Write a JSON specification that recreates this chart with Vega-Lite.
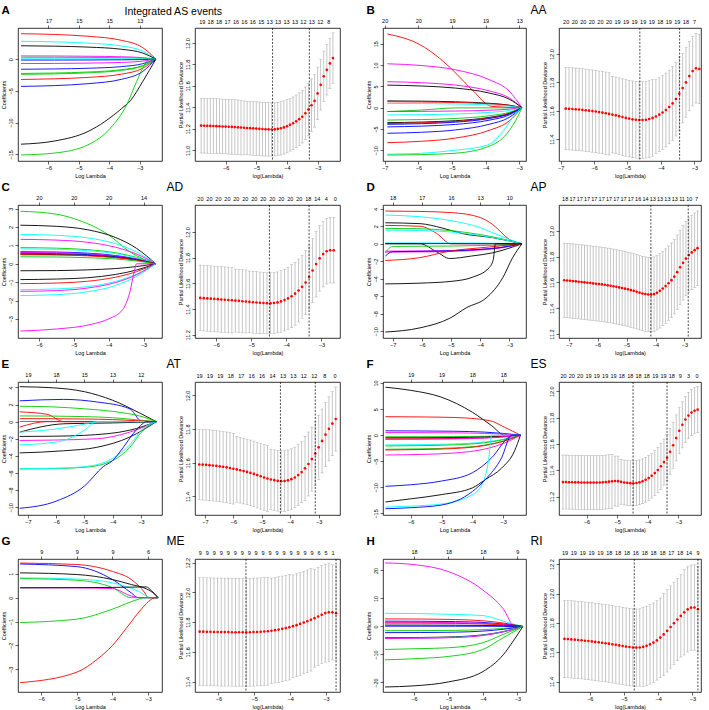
{
"$schema": "https://vega.github.io/schema/vega-lite/v6.json",
"padding": {"left": 1, "top": 3, "right": 1, "bottom": 0},
"config": {
  "font": "Liberation Sans",
  "view": {"stroke": "#000", "strokeWidth": 0.8},
  "axis": {"grid": false, "domain": false, "tickColor": "#000", "tickSize": 3, "tickWidth": 0.6, "labelFontSize": 5.5, "labelColor": "#000", "titleFontSize": 5.5, "titleFontWeight": "normal", "titleColor": "#000", "labelPadding": 1.5, "titlePadding": 2, "labelOverlap": false, "labelFlush": false},
  "axisY": {"labelAngle": -90, "labelAlign": "center", "labelBaseline": "bottom"},
  "title": {"fontSize": 11.5, "fontWeight": "bold", "anchor": "start", "color": "#000", "offset": 2}
},
"datasets": {
"cA": [
{"k":2,"x":-6.9,"y":4.0},{"k":2,"x":-5.8,"y":3.88},{"k":2,"x":-4.7,"y":3.6},{"k":2,"x":-3.6,"y":2.96},{"k":2,"x":-2.9,"y":1.8},{"k":2,"x":-2.47,"y":0},
{"k":5,"x":-6.9,"y":2.8},{"k":5,"x":-5.8,"y":2.72},{"k":5,"x":-4.7,"y":2.52},{"k":5,"x":-3.6,"y":2.07},{"k":5,"x":-2.9,"y":1.26},{"k":5,"x":-2.47,"y":0},
{"k":1,"x":-6.9,"y":2.1},{"k":1,"x":-5.8,"y":2.04},{"k":1,"x":-4.7,"y":1.89},{"k":1,"x":-3.6,"y":1.55},{"k":1,"x":-2.9,"y":0.95},{"k":1,"x":-2.47,"y":0},
{"k":6,"x":-6.9,"y":0.5},{"k":6,"x":-5.8,"y":0.49},{"k":6,"x":-4.7,"y":0.45},{"k":6,"x":-3.6,"y":0.37},{"k":6,"x":-2.9,"y":0.23},{"k":6,"x":-2.47,"y":0},
{"k":3,"x":-6.9,"y":0.3},{"k":3,"x":-5.8,"y":0.29},{"k":3,"x":-4.7,"y":0.27},{"k":3,"x":-3.6,"y":0.22},{"k":3,"x":-2.9,"y":0.14},{"k":3,"x":-2.47,"y":0},
{"k":11,"x":-6.9,"y":0.05},{"k":11,"x":-5.8,"y":0.05},{"k":11,"x":-4.7,"y":0.05},{"k":11,"x":-3.6,"y":0.04},{"k":11,"x":-2.9,"y":0.02},{"k":11,"x":-2.47,"y":0},
{"k":4,"x":-6.9,"y":-0.15},{"k":4,"x":-5.8,"y":-0.15},{"k":4,"x":-4.7,"y":-0.14},{"k":4,"x":-3.6,"y":-0.11},{"k":4,"x":-2.9,"y":-0.07},{"k":4,"x":-2.47,"y":0},
{"k":12,"x":-6.9,"y":-0.7},{"k":12,"x":-5.8,"y":-0.68},{"k":12,"x":-4.7,"y":-0.63},{"k":12,"x":-3.6,"y":-0.52},{"k":12,"x":-2.9,"y":-0.32},{"k":12,"x":-2.47,"y":0},
{"k":10,"x":-6.9,"y":-1.6},{"k":10,"x":-5.8,"y":-1.55},{"k":10,"x":-4.7,"y":-1.44},{"k":10,"x":-3.6,"y":-1.18},{"k":10,"x":-2.9,"y":-0.72},{"k":10,"x":-2.47,"y":0},
{"k":9,"x":-6.9,"y":-2.26},{"k":9,"x":-5.8,"y":-2.19},{"k":9,"x":-4.7,"y":-2.03},{"k":9,"x":-3.6,"y":-1.67},{"k":9,"x":-2.9,"y":-1.02},{"k":9,"x":-2.47,"y":0},
{"k":15,"x":-6.9,"y":-2.4},{"k":15,"x":-5.8,"y":-2.33},{"k":15,"x":-4.7,"y":-2.16},{"k":15,"x":-3.6,"y":-1.78},{"k":15,"x":-2.9,"y":-1.08},{"k":15,"x":-2.47,"y":0},
{"k":8,"x":-6.9,"y":-3.2},{"k":8,"x":-5.8,"y":-3.1},{"k":8,"x":-4.7,"y":-2.88},{"k":8,"x":-3.6,"y":-2.37},{"k":8,"x":-2.9,"y":-1.44},{"k":8,"x":-2.47,"y":0},
{"k":16,"x":-6.9,"y":-4.3},{"k":16,"x":-5.8,"y":-4.17},{"k":16,"x":-4.7,"y":-3.87},{"k":16,"x":-3.6,"y":-3.18},{"k":16,"x":-2.9,"y":-1.94},{"k":16,"x":-2.47,"y":0},
{"k":7,"x":-6.9,"y":-13.4},{"k":7,"x":-5.8,"y":-12.9},{"k":7,"x":-4.7,"y":-11.4},{"k":7,"x":-3.6,"y":-7.8},{"k":7,"x":-3.3,"y":-6.5},{"k":7,"x":-2.9,"y":-3.5},{"k":7,"x":-2.47,"y":0},
{"k":21,"x":-6.9,"y":-15.1},{"k":21,"x":-5.8,"y":-14.8},{"k":21,"x":-4.7,"y":-13.5},{"k":21,"x":-3.97,"y":-10.9},{"k":21,"x":-3.43,"y":-7.2},{"k":21,"x":-3.1,"y":-3.5},{"k":21,"x":-2.8,"y":-0.6},{"k":21,"x":-2.68,"y":0},{"k":21,"x":-2.47,"y":0}
],
"cB": [
{"k":2,"x":-6.92,"y":17.3},{"k":2,"x":-5.93,"y":14.7},{"k":2,"x":-5.04,"y":9.3},{"k":2,"x":-4.64,"y":6.1},{"k":2,"x":-4.35,"y":3.8},{"k":2,"x":-3.82,"y":0.3},{"k":2,"x":-2.92,"y":0},
{"k":6,"x":-6.92,"y":10.3},{"k":6,"x":-5.9,"y":9.9},{"k":6,"x":-4.9,"y":8.9},{"k":6,"x":-3.9,"y":6.6},{"k":6,"x":-3.3,"y":3.9},{"k":6,"x":-2.92,"y":0},
{"k":12,"x":-6.92,"y":6.1},{"k":12,"x":-5.9,"y":5.86},{"k":12,"x":-4.9,"y":5.31},{"k":12,"x":-3.9,"y":3.97},{"k":12,"x":-3.3,"y":2.32},{"k":12,"x":-2.92,"y":0},
{"k":1,"x":-6.92,"y":5.3},{"k":1,"x":-5.9,"y":5.09},{"k":1,"x":-4.9,"y":4.61},{"k":1,"x":-3.9,"y":3.45},{"k":1,"x":-3.3,"y":2.01},{"k":1,"x":-2.92,"y":0},
{"k":7,"x":-6.92,"y":1.6},{"k":7,"x":-5.9,"y":1.54},{"k":7,"x":-4.9,"y":1.39},{"k":7,"x":-3.9,"y":1.04},{"k":7,"x":-3.3,"y":0.61},{"k":7,"x":-2.92,"y":0},
{"k":8,"x":-6.92,"y":1.4},{"k":8,"x":-5.9,"y":1.34},{"k":8,"x":-4.9,"y":1.22},{"k":8,"x":-3.9,"y":0.91},{"k":8,"x":-3.3,"y":0.53},{"k":8,"x":-2.92,"y":0},
{"k":5,"x":-6.92,"y":1.0},{"k":5,"x":-5.9,"y":0.96},{"k":5,"x":-4.9,"y":0.87},{"k":5,"x":-3.9,"y":0.65},{"k":5,"x":-3.3,"y":0.38},{"k":5,"x":-2.92,"y":0},
{"k":3,"x":-6.92,"y":-0.9},{"k":3,"x":-5.9,"y":-0.55},{"k":3,"x":-4.9,"y":-0.05},{"k":3,"x":-3.9,"y":-0.04},{"k":3,"x":-3.3,"y":-0.02},{"k":3,"x":-2.92,"y":0},
{"k":18,"x":-6.92,"y":-0.9},{"k":18,"x":-5.9,"y":-0.86},{"k":18,"x":-4.9,"y":-0.78},{"k":18,"x":-3.9,"y":-0.59},{"k":18,"x":-3.3,"y":-0.34},{"k":18,"x":-2.92,"y":0},
{"k":11,"x":-6.92,"y":-1.7},{"k":11,"x":-5.9,"y":-1.63},{"k":11,"x":-4.9,"y":-1.48},{"k":11,"x":-3.9,"y":-1.1},{"k":11,"x":-3.3,"y":-0.65},{"k":11,"x":-2.92,"y":0},
{"k":9,"x":-6.92,"y":-2.9},{"k":9,"x":-5.9,"y":-2.78},{"k":9,"x":-4.9,"y":-2.52},{"k":9,"x":-3.9,"y":-1.89},{"k":9,"x":-3.3,"y":-1.1},{"k":9,"x":-2.92,"y":0},
{"k":13,"x":-6.92,"y":-3.5},{"k":13,"x":-5.9,"y":-3.36},{"k":13,"x":-4.9,"y":-3.05},{"k":13,"x":-3.9,"y":-2.28},{"k":13,"x":-3.3,"y":-1.33},{"k":13,"x":-2.92,"y":0},
{"k":14,"x":-6.92,"y":-3.7},{"k":14,"x":-5.9,"y":-3.55},{"k":14,"x":-4.9,"y":-3.22},{"k":14,"x":-3.9,"y":-2.41},{"k":14,"x":-3.3,"y":-1.41},{"k":14,"x":-2.92,"y":0},
{"k":4,"x":-6.92,"y":-3.9},{"k":4,"x":-5.9,"y":-3.74},{"k":4,"x":-4.9,"y":-3.39},{"k":4,"x":-3.9,"y":-2.54},{"k":4,"x":-3.3,"y":-1.48},{"k":4,"x":-2.92,"y":0},
{"k":10,"x":-6.92,"y":-4.5},{"k":10,"x":-5.9,"y":-4.32},{"k":10,"x":-4.9,"y":-3.92},{"k":10,"x":-3.9,"y":-2.93},{"k":10,"x":-3.3,"y":-1.71},{"k":10,"x":-2.92,"y":0},
{"k":16,"x":-6.92,"y":-6.0},{"k":16,"x":-5.9,"y":-5.76},{"k":16,"x":-4.9,"y":-5.22},{"k":16,"x":-3.9,"y":-3.9},{"k":16,"x":-3.3,"y":-2.28},{"k":16,"x":-2.92,"y":0},
{"k":20,"x":-6.92,"y":-8.2},{"k":20,"x":-5.9,"y":-7.87},{"k":20,"x":-4.9,"y":-7.13},{"k":20,"x":-3.9,"y":-5.33},{"k":20,"x":-3.3,"y":-3.12},{"k":20,"x":-2.92,"y":0},
{"k":17,"x":-6.92,"y":-10.9},{"k":17,"x":-5.93,"y":-10.7},{"k":17,"x":-4.94,"y":-10.0},{"k":17,"x":-3.95,"y":-8.8},{"k":17,"x":-3.46,"y":-5.3},{"k":17,"x":-3.06,"y":-0.9},{"k":17,"x":-2.92,"y":0},
{"k":15,"x":-6.92,"y":-11.1},{"k":15,"x":-5.93,"y":-11.0},{"k":15,"x":-4.94,"y":-10.7},{"k":15,"x":-3.95,"y":-9.2},{"k":15,"x":-3.36,"y":-6.0},{"k":15,"x":-3.02,"y":-1.7},{"k":15,"x":-2.92,"y":0}
],
"cC": [
{"k":3,"x":-6.53,"y":2.86},{"k":3,"x":-5.5,"y":2.7},{"k":3,"x":-5.0,"y":2.46},{"k":3,"x":-4.0,"y":1.57},{"k":3,"x":-3.4,"y":0.66},{"k":3,"x":-2.65,"y":0},
{"k":1,"x":-6.53,"y":2.1},{"k":1,"x":-5.5,"y":2.04},{"k":1,"x":-4.6,"y":1.85},{"k":1,"x":-3.8,"y":1.43},{"k":1,"x":-3.2,"y":0.84},{"k":1,"x":-2.65,"y":0},
{"k":5,"x":-6.53,"y":1.6},{"k":5,"x":-5.5,"y":1.55},{"k":5,"x":-4.6,"y":1.41},{"k":5,"x":-3.8,"y":1.09},{"k":5,"x":-3.2,"y":0.64},{"k":5,"x":-2.65,"y":0},
{"k":6,"x":-6.53,"y":1.33},{"k":6,"x":-5.5,"y":1.29},{"k":6,"x":-4.6,"y":1.17},{"k":6,"x":-3.8,"y":0.9},{"k":6,"x":-3.2,"y":0.53},{"k":6,"x":-2.65,"y":0},
{"k":9,"x":-6.53,"y":0.88},{"k":9,"x":-5.5,"y":0.85},{"k":9,"x":-4.6,"y":0.77},{"k":9,"x":-3.8,"y":0.6},{"k":9,"x":-3.2,"y":0.35},{"k":9,"x":-2.65,"y":0},
{"k":11,"x":-6.53,"y":0.81},{"k":11,"x":-5.5,"y":0.79},{"k":11,"x":-4.6,"y":0.71},{"k":11,"x":-3.8,"y":0.55},{"k":11,"x":-3.2,"y":0.32},{"k":11,"x":-2.65,"y":0},
{"k":4,"x":-6.53,"y":0.66},{"k":4,"x":-5.5,"y":0.64},{"k":4,"x":-4.6,"y":0.58},{"k":4,"x":-3.8,"y":0.45},{"k":4,"x":-3.2,"y":0.26},{"k":4,"x":-2.65,"y":0},
{"k":12,"x":-6.53,"y":0.62},{"k":12,"x":-5.5,"y":0.6},{"k":12,"x":-4.6,"y":0.55},{"k":12,"x":-3.8,"y":0.42},{"k":12,"x":-3.2,"y":0.25},{"k":12,"x":-2.65,"y":0},
{"k":10,"x":-6.53,"y":0.57},{"k":10,"x":-5.5,"y":0.55},{"k":10,"x":-4.6,"y":0.5},{"k":10,"x":-3.8,"y":0.39},{"k":10,"x":-3.2,"y":0.23},{"k":10,"x":-2.65,"y":0},
{"k":7,"x":-6.53,"y":0.52},{"k":7,"x":-5.5,"y":0.5},{"k":7,"x":-4.6,"y":0.46},{"k":7,"x":-3.8,"y":0.35},{"k":7,"x":-3.2,"y":0.21},{"k":7,"x":-2.65,"y":0},
{"k":2,"x":-6.53,"y":0.49},{"k":2,"x":-5.5,"y":0.48},{"k":2,"x":-4.6,"y":0.43},{"k":2,"x":-3.8,"y":0.33},{"k":2,"x":-3.2,"y":0.2},{"k":2,"x":-2.65,"y":0},
{"k":15,"x":-6.53,"y":0.38},{"k":15,"x":-5.5,"y":0.37},{"k":15,"x":-4.6,"y":0.33},{"k":15,"x":-3.8,"y":0.26},{"k":15,"x":-3.2,"y":0.15},{"k":15,"x":-2.65,"y":0},
{"k":13,"x":-6.53,"y":-0.38},{"k":13,"x":-5.5,"y":-0.37},{"k":13,"x":-4.6,"y":-0.33},{"k":13,"x":-3.8,"y":-0.26},{"k":13,"x":-3.2,"y":-0.15},{"k":13,"x":-2.65,"y":0},
{"k":19,"x":-6.53,"y":-0.86},{"k":19,"x":-5.5,"y":-0.83},{"k":19,"x":-4.6,"y":-0.76},{"k":19,"x":-3.8,"y":-0.58},{"k":19,"x":-3.2,"y":-0.34},{"k":19,"x":-2.65,"y":0},
{"k":8,"x":-6.53,"y":-1.08},{"k":8,"x":-5.5,"y":-1.05},{"k":8,"x":-4.6,"y":-0.95},{"k":8,"x":-3.8,"y":-0.73},{"k":8,"x":-3.2,"y":-0.43},{"k":8,"x":-2.65,"y":0},
{"k":17,"x":-6.53,"y":-1.41},{"k":17,"x":-5.5,"y":-1.37},{"k":17,"x":-4.6,"y":-1.24},{"k":17,"x":-3.8,"y":-0.96},{"k":17,"x":-3.2,"y":-0.56},{"k":17,"x":-2.65,"y":0},
{"k":18,"x":-6.53,"y":-1.5},{"k":18,"x":-5.5,"y":-1.46},{"k":18,"x":-4.6,"y":-1.32},{"k":18,"x":-3.8,"y":-1.02},{"k":18,"x":-3.2,"y":-0.6},{"k":18,"x":-2.65,"y":0},
{"k":23,"x":-6.53,"y":-1.73},{"k":23,"x":-5.5,"y":-1.68},{"k":23,"x":-4.6,"y":-1.52},{"k":23,"x":-3.8,"y":-1.18},{"k":23,"x":-3.2,"y":-0.69},{"k":23,"x":-2.65,"y":0},
{"k":24,"x":-6.53,"y":-3.66},{"k":24,"x":-5.5,"y":-3.55},{"k":24,"x":-4.5,"y":-3.3},{"k":24,"x":-4.0,"y":-3.0},{"k":24,"x":-3.6,"y":-2.5},{"k":24,"x":-3.4,"y":-1.6},{"k":24,"x":-3.25,"y":-0.3},{"k":24,"x":-3.2,"y":0},{"k":24,"x":-2.65,"y":0}
],
"cD": [
{"k":2,"x":-7.25,"y":3.74},{"k":2,"x":-6.1,"y":3.7},{"k":2,"x":-4.93,"y":3.55},{"k":2,"x":-4.0,"y":3.0},{"k":2,"x":-3.57,"y":2.2},{"k":2,"x":-3.0,"y":0.5},{"k":2,"x":-2.57,"y":0},
{"k":5,"x":-7.25,"y":3.28},{"k":5,"x":-6.1,"y":3.1},{"k":5,"x":-4.93,"y":2.6},{"k":5,"x":-4.0,"y":1.85},{"k":5,"x":-3.57,"y":1.26},{"k":5,"x":-3.0,"y":0.5},{"k":5,"x":-2.57,"y":0},
{"k":1,"x":-7.25,"y":2.4},{"k":1,"x":-6.06,"y":2.3},{"k":1,"x":-5.3,"y":1.8},{"k":1,"x":-4.59,"y":1.15},{"k":1,"x":-3.57,"y":0.7},{"k":1,"x":-2.57,"y":0},
{"k":8,"x":-7.25,"y":2.1},{"k":8,"x":-6.06,"y":2.0},{"k":8,"x":-5.5,"y":1.2},{"k":8,"x":-5.0,"y":0},{"k":8,"x":-2.57,"y":0},
{"k":3,"x":-7.25,"y":1.76},{"k":3,"x":-6.1,"y":1.72},{"k":3,"x":-5.0,"y":1.5},{"k":3,"x":-4.0,"y":1.05},{"k":3,"x":-3.3,"y":0.6},{"k":3,"x":-2.57,"y":0},
{"k":11,"x":-7.25,"y":1.56},{"k":11,"x":-6.1,"y":1.52},{"k":11,"x":-5.0,"y":1.35},{"k":11,"x":-4.0,"y":0.95},{"k":11,"x":-3.3,"y":0.55},{"k":11,"x":-2.57,"y":0},
{"k":17,"x":-7.25,"y":0.1},{"k":17,"x":-6.1,"y":0.1},{"k":17,"x":-5.0,"y":0.09},{"k":17,"x":-4.0,"y":0.08},{"k":17,"x":-3.3,"y":0.05},{"k":17,"x":-2.57,"y":0},
{"k":4,"x":-7.25,"y":0.02},{"k":4,"x":-6.1,"y":0.02},{"k":4,"x":-5.0,"y":0.02},{"k":4,"x":-4.0,"y":0.01},{"k":4,"x":-3.3,"y":0.01},{"k":4,"x":-2.57,"y":0},
{"k":7,"x":-7.25,"y":0},{"k":7,"x":-6.06,"y":0},{"k":7,"x":-5.5,"y":-0.9},{"k":7,"x":-5.04,"y":-1.68},{"k":7,"x":-4.3,"y":-1.4},{"k":7,"x":-3.57,"y":-1.03},{"k":7,"x":-2.57,"y":0},
{"k":6,"x":-7.25,"y":-0.84},{"k":6,"x":-6.1,"y":-0.82},{"k":6,"x":-5.0,"y":-0.77},{"k":6,"x":-4.0,"y":-0.63},{"k":6,"x":-3.3,"y":-0.42},{"k":6,"x":-2.57,"y":0},
{"k":12,"x":-7.25,"y":-0.95},{"k":12,"x":-6.1,"y":-0.93},{"k":12,"x":-5.0,"y":-0.87},{"k":12,"x":-4.0,"y":-0.71},{"k":12,"x":-3.3,"y":-0.48},{"k":12,"x":-2.57,"y":0},
{"k":10,"x":-7.25,"y":-1.41},{"k":10,"x":-7.0,"y":-0.9},{"k":10,"x":-6.1,"y":-0.86},{"k":10,"x":-5.0,"y":-0.8},{"k":10,"x":-4.0,"y":-0.65},{"k":10,"x":-3.3,"y":-0.43},{"k":10,"x":-2.57,"y":0},
{"k":9,"x":-7.25,"y":-1.0},{"k":9,"x":-7.0,"y":-0.3},{"k":9,"x":-6.1,"y":-0.28},{"k":9,"x":-5.0,"y":-0.26},{"k":9,"x":-4.0,"y":-0.2},{"k":9,"x":-3.3,"y":-0.14},{"k":9,"x":-2.57,"y":0},
{"k":14,"x":-7.25,"y":-1.9},{"k":14,"x":-6.1,"y":-1.6},{"k":14,"x":-5.04,"y":-0.84},{"k":14,"x":-3.8,"y":-0.4},{"k":14,"x":-2.57,"y":0},
{"k":13,"x":-7.25,"y":-4.58},{"k":13,"x":-6.1,"y":-4.5},{"k":13,"x":-4.93,"y":-4.27},{"k":13,"x":-4.25,"y":-3.8},{"k":13,"x":-3.7,"y":-2.75},{"k":13,"x":-3.55,"y":-1.8},{"k":13,"x":-3.48,"y":0},{"k":13,"x":-2.57,"y":0},
{"k":19,"x":-7.25,"y":-10.08},{"k":19,"x":-6.06,"y":-9.6},{"k":19,"x":-5.04,"y":-8.5},{"k":19,"x":-4.47,"y":-7.3},{"k":19,"x":-3.8,"y":-6.2},{"k":19,"x":-3.23,"y":-3.9},{"k":19,"x":-2.89,"y":-1.6},{"k":19,"x":-2.57,"y":0}
],
"cE": [
{"k":1,"x":-7.29,"y":4.08},{"k":1,"x":-6.1,"y":3.95},{"k":1,"x":-5.0,"y":3.5},{"k":1,"x":-4.0,"y":2.5},{"k":1,"x":-3.0,"y":0.94},{"k":1,"x":-2.45,"y":0},
{"k":4,"x":-7.29,"y":2.43},{"k":4,"x":-5.73,"y":2.6},{"k":4,"x":-4.56,"y":2.3},{"k":4,"x":-3.39,"y":1.5},{"k":4,"x":-3.04,"y":0.15},{"k":4,"x":-2.98,"y":0},{"k":4,"x":-2.45,"y":0},
{"k":3,"x":-7.29,"y":1.8},{"k":3,"x":-6.1,"y":1.72},{"k":3,"x":-5.0,"y":1.5},{"k":3,"x":-4.0,"y":1.2},{"k":3,"x":-2.92,"y":0.55},{"k":3,"x":-2.45,"y":0},
{"k":2,"x":-7.29,"y":1.14},{"k":2,"x":-6.32,"y":0.86},{"k":2,"x":-5.73,"y":0},{"k":2,"x":-2.45,"y":0},
{"k":9,"x":-7.29,"y":0.67},{"k":9,"x":-6.1,"y":0.65},{"k":9,"x":-5.0,"y":0.59},{"k":9,"x":-4.0,"y":0.46},{"k":9,"x":-3.2,"y":0.23},{"k":9,"x":-2.45,"y":0},
{"k":8,"x":-7.29,"y":0.35},{"k":8,"x":-6.1,"y":0.34},{"k":8,"x":-5.0,"y":0.31},{"k":8,"x":-4.0,"y":0.24},{"k":8,"x":-3.2,"y":0.12},{"k":8,"x":-2.45,"y":0},
{"k":6,"x":-7.29,"y":0.02},{"k":6,"x":-6.1,"y":0.02},{"k":6,"x":-5.0,"y":0.02},{"k":6,"x":-4.0,"y":0.01},{"k":6,"x":-3.2,"y":0.01},{"k":6,"x":-2.45,"y":0},
{"k":14,"x":-7.29,"y":-0.63},{"k":14,"x":-6.32,"y":0},{"k":14,"x":-2.45,"y":0},
{"k":7,"x":-7.29,"y":-1.22},{"k":7,"x":-5.73,"y":-0.25},{"k":7,"x":-5.0,"y":-0.2},{"k":7,"x":-4.0,"y":-0.15},{"k":7,"x":-3.2,"y":-0.08},{"k":7,"x":-2.45,"y":0},
{"k":5,"x":-7.29,"y":-1.22},{"k":5,"x":-6.1,"y":-0.9},{"k":5,"x":-5.0,"y":-0.3},{"k":5,"x":-4.56,"y":0},{"k":5,"x":-2.45,"y":0},
{"k":13,"x":-7.29,"y":-1.73},{"k":13,"x":-6.1,"y":-1.7},{"k":13,"x":-5.0,"y":-1.6},{"k":13,"x":-3.39,"y":-1.0},{"k":13,"x":-2.45,"y":0},
{"k":12,"x":-7.29,"y":-2.2},{"k":12,"x":-6.1,"y":-2.15},{"k":12,"x":-4.56,"y":-2.0},{"k":12,"x":-3.39,"y":-1.22},{"k":12,"x":-2.45,"y":0},
{"k":11,"x":-7.29,"y":-2.7},{"k":11,"x":-6.3,"y":-2.5},{"k":11,"x":-5.73,"y":-2.2},{"k":11,"x":-5.0,"y":-1.0},{"k":11,"x":-4.56,"y":0},{"k":11,"x":-2.45,"y":0},
{"k":19,"x":-7.29,"y":-3.65},{"k":19,"x":-5.73,"y":-3.4},{"k":19,"x":-4.56,"y":-3.0},{"k":19,"x":-3.39,"y":-1.8},{"k":19,"x":-2.45,"y":0},
{"k":15,"x":-7.29,"y":-5.53},{"k":15,"x":-6.1,"y":-5.48},{"k":15,"x":-4.99,"y":-5.33},{"k":15,"x":-4.0,"y":-4.55},{"k":15,"x":-3.39,"y":-3.0},{"k":15,"x":-2.92,"y":-1.0},{"k":15,"x":-2.45,"y":0},
{"k":17,"x":-7.29,"y":-5.5},{"k":17,"x":-6.1,"y":-5.45},{"k":17,"x":-4.99,"y":-5.25},{"k":17,"x":-4.0,"y":-4.3},{"k":17,"x":-3.39,"y":-2.7},{"k":17,"x":-2.92,"y":-0.8},{"k":17,"x":-2.45,"y":0},
{"k":10,"x":-7.29,"y":-10.12},{"k":10,"x":-5.97,"y":-9.25},{"k":10,"x":-4.99,"y":-7.5},{"k":10,"x":-4.33,"y":-5.25},{"k":10,"x":-4.0,"y":-4.55},{"k":10,"x":-3.62,"y":-3.0},{"k":10,"x":-3.27,"y":-1.4},{"k":10,"x":-2.92,"y":-0.2},{"k":10,"x":-2.82,"y":0},{"k":10,"x":-2.45,"y":0}
],
"cF": [
{"k":1,"x":-6.82,"y":9.2},{"k":1,"x":-6.0,"y":8.6},{"k":1,"x":-5.01,"y":7.3},{"k":1,"x":-4.0,"y":4.4},{"k":1,"x":-3.37,"y":1.8},{"k":1,"x":-2.95,"y":0},{"k":1,"x":-2.44,"y":0},
{"k":2,"x":-6.82,"y":3.55},{"k":2,"x":-5.7,"y":3.5},{"k":2,"x":-4.6,"y":3.4},{"k":2,"x":-3.44,"y":2.8},{"k":2,"x":-2.95,"y":1.5},{"k":2,"x":-2.44,"y":0},
{"k":4,"x":-6.82,"y":0.84},{"k":4,"x":-5.7,"y":0.81},{"k":4,"x":-4.6,"y":0.76},{"k":4,"x":-3.6,"y":0.59},{"k":4,"x":-3.0,"y":0.35},{"k":4,"x":-2.44,"y":0},
{"k":6,"x":-6.82,"y":0.5},{"k":6,"x":-5.7,"y":0.49},{"k":6,"x":-4.6,"y":0.45},{"k":6,"x":-3.6,"y":0.35},{"k":6,"x":-3.0,"y":0.21},{"k":6,"x":-2.44,"y":0},
{"k":3,"x":-6.82,"y":-0.3},{"k":3,"x":-5.7,"y":-0.29},{"k":3,"x":-4.6,"y":-0.27},{"k":3,"x":-3.6,"y":-0.21},{"k":3,"x":-3.0,"y":-0.13},{"k":3,"x":-2.44,"y":0},
{"k":7,"x":-6.82,"y":-0.5},{"k":7,"x":-5.7,"y":-0.49},{"k":7,"x":-4.6,"y":-0.45},{"k":7,"x":-3.6,"y":-0.35},{"k":7,"x":-3.0,"y":-0.21},{"k":7,"x":-2.44,"y":0},
{"k":8,"x":-6.82,"y":-0.7},{"k":8,"x":-5.7,"y":-0.68},{"k":8,"x":-4.6,"y":-0.63},{"k":8,"x":-3.6,"y":-0.49},{"k":8,"x":-3.0,"y":-0.29},{"k":8,"x":-2.44,"y":0},
{"k":12,"x":-6.82,"y":-0.8},{"k":12,"x":-5.7,"y":-0.78},{"k":12,"x":-4.6,"y":-0.72},{"k":12,"x":-3.6,"y":-0.56},{"k":12,"x":-3.0,"y":-0.34},{"k":12,"x":-2.44,"y":0},
{"k":5,"x":-6.82,"y":-1.87},{"k":5,"x":-5.7,"y":-1.81},{"k":5,"x":-4.6,"y":-1.68},{"k":5,"x":-3.6,"y":-1.31},{"k":5,"x":-3.0,"y":-0.79},{"k":5,"x":-2.44,"y":0},
{"k":9,"x":-6.82,"y":-2.06},{"k":9,"x":-5.7,"y":-2.0},{"k":9,"x":-4.6,"y":-1.85},{"k":9,"x":-3.6,"y":-1.44},{"k":9,"x":-3.0,"y":-0.87},{"k":9,"x":-2.44,"y":0},
{"k":15,"x":-6.82,"y":-2.7},{"k":15,"x":-5.7,"y":-2.62},{"k":15,"x":-4.6,"y":-2.43},{"k":15,"x":-3.6,"y":-1.89},{"k":15,"x":-3.0,"y":-1.13},{"k":15,"x":-2.44,"y":0},
{"k":14,"x":-6.82,"y":-2.84},{"k":14,"x":-5.7,"y":-2.75},{"k":14,"x":-4.6,"y":-2.56},{"k":14,"x":-3.6,"y":-1.99},{"k":14,"x":-3.0,"y":-1.19},{"k":14,"x":-2.44,"y":0},
{"k":18,"x":-6.82,"y":-3.8},{"k":18,"x":-5.7,"y":-3.69},{"k":18,"x":-4.6,"y":-3.42},{"k":18,"x":-3.6,"y":-2.66},{"k":18,"x":-3.0,"y":-1.6},{"k":18,"x":-2.44,"y":0},
{"k":10,"x":-6.82,"y":-9.8},{"k":10,"x":-6.0,"y":-9.5},{"k":10,"x":-5.01,"y":-8.8},{"k":10,"x":-4.0,"y":-7.2},{"k":10,"x":-3.37,"y":-4.3},{"k":10,"x":-2.84,"y":-0.45},{"k":10,"x":-2.73,"y":0},{"k":10,"x":-2.44,"y":0},
{"k":13,"x":-6.82,"y":-12.8},{"k":13,"x":-6.0,"y":-12.2},{"k":13,"x":-5.01,"y":-11.4},{"k":13,"x":-4.0,"y":-10.1},{"k":13,"x":-3.58,"y":-8.5},{"k":13,"x":-3.05,"y":-6.3},{"k":13,"x":-2.63,"y":-3.0},{"k":13,"x":-2.44,"y":0},
{"k":11,"x":-6.82,"y":-13.8},{"k":11,"x":-6.0,"y":-13.6},{"k":11,"x":-5.01,"y":-13.2},{"k":11,"x":-4.0,"y":-11.4},{"k":11,"x":-3.69,"y":-9.5},{"k":11,"x":-3.48,"y":-5.0},{"k":11,"x":-3.37,"y":0},{"k":11,"x":-2.44,"y":0},
{"k":16,"x":-6.82,"y":-14.1},{"k":16,"x":-6.0,"y":-13.9},{"k":16,"x":-5.01,"y":-13.4},{"k":16,"x":-4.0,"y":-10.8},{"k":16,"x":-3.58,"y":-8.5},{"k":16,"x":-3.05,"y":-4.3},{"k":16,"x":-2.73,"y":0},{"k":16,"x":-2.44,"y":0}
],
"cG": [
{"k":2,"x":-6.59,"y":1.45},{"k":2,"x":-5.0,"y":1.39},{"k":2,"x":-4.0,"y":1.1},{"k":2,"x":-3.47,"y":0.76},{"k":2,"x":-3.09,"y":0.2},{"k":2,"x":-3.0,"y":0},{"k":2,"x":-2.72,"y":0},
{"k":4,"x":-6.59,"y":1.41},{"k":4,"x":-5.0,"y":1.3},{"k":4,"x":-4.0,"y":0.76},{"k":4,"x":-3.47,"y":0.2},{"k":4,"x":-3.28,"y":0},{"k":4,"x":-2.72,"y":0},
{"k":1,"x":-6.59,"y":1.04},{"k":1,"x":-5.0,"y":0.97},{"k":1,"x":-4.0,"y":0.76},{"k":1,"x":-3.47,"y":0.55},{"k":1,"x":-3.05,"y":0.37},{"k":1,"x":-2.81,"y":0.14},{"k":1,"x":-2.72,"y":0},
{"k":5,"x":-6.59,"y":0.83},{"k":5,"x":-5.0,"y":0.78},{"k":5,"x":-4.0,"y":0.62},{"k":5,"x":-3.28,"y":0.28},{"k":5,"x":-2.91,"y":0},{"k":5,"x":-2.72,"y":0},
{"k":3,"x":-6.59,"y":0.8},{"k":3,"x":-5.0,"y":0.73},{"k":3,"x":-4.0,"y":0.42},{"k":3,"x":-3.47,"y":0},{"k":3,"x":-2.72,"y":0},
{"k":6,"x":-6.59,"y":0.42},{"k":6,"x":-5.0,"y":0.41},{"k":6,"x":-4.0,"y":0.38},{"k":6,"x":-3.47,"y":0.07},{"k":6,"x":-3.19,"y":0},{"k":6,"x":-2.72,"y":0},
{"k":7,"x":-6.59,"y":0.41},{"k":7,"x":-5.0,"y":0.42},{"k":7,"x":-4.0,"y":0.43},{"k":7,"x":-3.05,"y":0.45},{"k":7,"x":-2.91,"y":0.3},{"k":7,"x":-2.72,"y":0},
{"k":9,"x":-6.59,"y":-1.04},{"k":9,"x":-5.0,"y":-0.9},{"k":9,"x":-4.0,"y":-0.48},{"k":9,"x":-3.28,"y":-0.07},{"k":9,"x":-3.09,"y":0},{"k":9,"x":-2.72,"y":0},
{"k":8,"x":-6.59,"y":-3.56},{"k":8,"x":-5.0,"y":-3.12},{"k":8,"x":-4.41,"y":-2.56},{"k":8,"x":-4.0,"y":-2.0},{"k":8,"x":-3.56,"y":-1.18},{"k":8,"x":-3.19,"y":-0.48},{"k":8,"x":-2.91,"y":-0.07},{"k":8,"x":-2.81,"y":0},{"k":8,"x":-2.72,"y":0}
],
"cH": [
{"k":6,"x":-6.84,"y":22.7},{"k":6,"x":-6.0,"y":22.1},{"k":6,"x":-5.0,"y":19.6},{"k":6,"x":-4.0,"y":13},{"k":6,"x":-3.41,"y":6.3},{"k":6,"x":-3.07,"y":0},{"k":6,"x":-2.84,"y":0},
{"k":5,"x":-6.84,"y":4.7},{"k":5,"x":-5.8,"y":4.6},{"k":5,"x":-4.8,"y":4.3},{"k":5,"x":-4.0,"y":3.9},{"k":5,"x":-3.31,"y":1.5},{"k":5,"x":-2.84,"y":0},
{"k":2,"x":-6.84,"y":2.7},{"k":2,"x":-5.8,"y":2.65},{"k":2,"x":-4.8,"y":2.48},{"k":2,"x":-4.0,"y":2.03},{"k":2,"x":-3.4,"y":1.22},{"k":2,"x":-2.84,"y":0},
{"k":4,"x":-6.84,"y":1.9},{"k":4,"x":-5.8,"y":1.86},{"k":4,"x":-4.8,"y":1.75},{"k":4,"x":-4.0,"y":1.43},{"k":4,"x":-3.4,"y":0.86},{"k":4,"x":-2.84,"y":0},
{"k":12,"x":-6.84,"y":1.5},{"k":12,"x":-5.8,"y":1.47},{"k":12,"x":-4.8,"y":1.38},{"k":12,"x":-4.0,"y":1.13},{"k":12,"x":-3.4,"y":0.68},{"k":12,"x":-2.84,"y":0},
{"k":8,"x":-6.84,"y":1.2},{"k":8,"x":-5.8,"y":1.18},{"k":8,"x":-4.8,"y":1.1},{"k":8,"x":-4.0,"y":0.9},{"k":8,"x":-3.4,"y":0.54},{"k":8,"x":-2.84,"y":0},
{"k":1,"x":-6.84,"y":0.5},{"k":1,"x":-5.8,"y":0.49},{"k":1,"x":-4.8,"y":0.46},{"k":1,"x":-4.0,"y":0.38},{"k":1,"x":-3.4,"y":0.23},{"k":1,"x":-2.84,"y":0},
{"k":10,"x":-6.84,"y":0.1},{"k":10,"x":-5.8,"y":0.1},{"k":10,"x":-4.8,"y":0.09},{"k":10,"x":-4.0,"y":0.08},{"k":10,"x":-3.4,"y":0.05},{"k":10,"x":-2.84,"y":0},
{"k":3,"x":-6.84,"y":-1.5},{"k":3,"x":-5.8,"y":-1.47},{"k":3,"x":-4.8,"y":-1.38},{"k":3,"x":-4.0,"y":-1.13},{"k":3,"x":-3.4,"y":-0.68},{"k":3,"x":-2.84,"y":0},
{"k":16,"x":-6.84,"y":-2.2},{"k":16,"x":-5.8,"y":-2.16},{"k":16,"x":-4.8,"y":-2.02},{"k":16,"x":-4.0,"y":-1.65},{"k":16,"x":-3.4,"y":-0.99},{"k":16,"x":-2.84,"y":0},
{"k":7,"x":-6.84,"y":-4.0},{"k":7,"x":-5.8,"y":-3.92},{"k":7,"x":-4.8,"y":-3.68},{"k":7,"x":-4.0,"y":-3.0},{"k":7,"x":-3.4,"y":-1.8},{"k":7,"x":-2.84,"y":0},
{"k":11,"x":-6.84,"y":-4.2},{"k":11,"x":-5.8,"y":-4.12},{"k":11,"x":-4.8,"y":-3.86},{"k":11,"x":-4.0,"y":-3.15},{"k":11,"x":-3.4,"y":-1.89},{"k":11,"x":-2.84,"y":0},
{"k":18,"x":-6.84,"y":-4.3},{"k":18,"x":-5.8,"y":-4.21},{"k":18,"x":-4.8,"y":-3.96},{"k":18,"x":-4.0,"y":-3.23},{"k":18,"x":-3.4,"y":-1.94},{"k":18,"x":-2.84,"y":0},
{"k":9,"x":-6.84,"y":-8.2},{"k":9,"x":-5.8,"y":-7.9},{"k":9,"x":-5.0,"y":-7.6},{"k":9,"x":-4.0,"y":-5.8},{"k":9,"x":-3.41,"y":-2.8},{"k":9,"x":-2.84,"y":0},
{"k":15,"x":-6.84,"y":-11.9},{"k":15,"x":-5.8,"y":-11.4},{"k":15,"x":-5.0,"y":-10.7},{"k":15,"x":-4.0,"y":-8.2},{"k":15,"x":-3.41,"y":-4.0},{"k":15,"x":-2.84,"y":0},
{"k":13,"x":-6.84,"y":-21.6},{"k":13,"x":-6.0,"y":-21.2},{"k":13,"x":-5.0,"y":-19.8},{"k":13,"x":-4.0,"y":-16.1},{"k":13,"x":-3.41,"y":-10.1},{"k":13,"x":-3.12,"y":-5.2},{"k":13,"x":-2.84,"y":0}
],
"vA": [
{"x":-6.8,"m":11.230,"e":0.255},{"x":-6.7,"m":11.229,"e":0.255},{"x":-6.6,"m":11.228,"e":0.255},{"x":-6.5,"m":11.227,"e":0.255},{"x":-6.4,"m":11.226,"e":0.255},{"x":-6.3,"m":11.225,"e":0.255},{"x":-6.2,"m":11.224,"e":0.255},{"x":-6.1,"m":11.222,"e":0.255},{"x":-6.0,"m":11.221,"e":0.255},{"x":-5.9,"m":11.219,"e":0.255},{"x":-5.8,"m":11.218,"e":0.255},{"x":-5.7,"m":11.216,"e":0.255},{"x":-5.6,"m":11.214,"e":0.255},{"x":-5.5,"m":11.212,"e":0.255},{"x":-5.4,"m":11.210,"e":0.25},{"x":-5.3,"m":11.208,"e":0.25},{"x":-5.2,"m":11.206,"e":0.25},{"x":-5.1,"m":11.204,"e":0.25},{"x":-5.0,"m":11.202,"e":0.25},{"x":-4.9,"m":11.200,"e":0.25},{"x":-4.8,"m":11.198,"e":0.25},{"x":-4.7,"m":11.196,"e":0.25},{"x":-4.6,"m":11.195,"e":0.25},{"x":-4.5,"m":11.194,"e":0.248},{"x":-4.4,"m":11.195,"e":0.248},{"x":-4.3,"m":11.199,"e":0.248},{"x":-4.2,"m":11.205,"e":0.248},{"x":-4.1,"m":11.213,"e":0.248},{"x":-4.0,"m":11.224,"e":0.248},{"x":-3.9,"m":11.237,"e":0.245},{"x":-3.8,"m":11.252,"e":0.245},{"x":-3.7,"m":11.270,"e":0.245},{"x":-3.6,"m":11.290,"e":0.245},{"x":-3.5,"m":11.313,"e":0.245},{"x":-3.4,"m":11.345,"e":0.245},{"x":-3.3,"m":11.380,"e":0.245},{"x":-3.2,"m":11.420,"e":0.245},{"x":-3.1,"m":11.460,"e":0.245},{"x":-3.0,"m":11.530,"e":0.245},{"x":-2.9,"m":11.610,"e":0.235},{"x":-2.8,"m":11.690,"e":0.235},{"x":-2.7,"m":11.750,"e":0.235},{"x":-2.6,"m":11.810,"e":0.235},{"x":-2.5,"m":11.860,"e":0.235}
],
"vAA": [
{"x":-6.85,"m":11.615,"e":0.29},{"x":-6.75,"m":11.614,"e":0.29},{"x":-6.65,"m":11.613,"e":0.29},{"x":-6.55,"m":11.611,"e":0.29},{"x":-6.45,"m":11.609,"e":0.29},{"x":-6.35,"m":11.607,"e":0.29},{"x":-6.25,"m":11.604,"e":0.29},{"x":-6.15,"m":11.601,"e":0.29},{"x":-6.05,"m":11.598,"e":0.29},{"x":-5.95,"m":11.595,"e":0.29},{"x":-5.85,"m":11.591,"e":0.29},{"x":-5.75,"m":11.587,"e":0.29},{"x":-5.65,"m":11.583,"e":0.29},{"x":-5.55,"m":11.578,"e":0.29},{"x":-5.45,"m":11.573,"e":0.27},{"x":-5.35,"m":11.568,"e":0.27},{"x":-5.25,"m":11.562,"e":0.27},{"x":-5.15,"m":11.556,"e":0.27},{"x":-5.05,"m":11.550,"e":0.27},{"x":-4.95,"m":11.545,"e":0.27},{"x":-4.85,"m":11.540,"e":0.27},{"x":-4.75,"m":11.537,"e":0.27},{"x":-4.65,"m":11.535,"e":0.27},{"x":-4.55,"m":11.535,"e":0.27},{"x":-4.45,"m":11.537,"e":0.27},{"x":-4.35,"m":11.542,"e":0.27},{"x":-4.25,"m":11.550,"e":0.27},{"x":-4.15,"m":11.560,"e":0.26},{"x":-4.05,"m":11.573,"e":0.26},{"x":-3.95,"m":11.588,"e":0.26},{"x":-3.85,"m":11.606,"e":0.26},{"x":-3.75,"m":11.627,"e":0.26},{"x":-3.65,"m":11.652,"e":0.26},{"x":-3.55,"m":11.683,"e":0.26},{"x":-3.45,"m":11.720,"e":0.26},{"x":-3.35,"m":11.760,"e":0.245},{"x":-3.25,"m":11.800,"e":0.245},{"x":-3.15,"m":11.845,"e":0.245},{"x":-3.05,"m":11.880,"e":0.245},{"x":-2.95,"m":11.900,"e":0.245},{"x":-2.85,"m":11.895,"e":0.245}
],
"vAD": [
{"x":-6.45,"m":11.487,"e":0.255},{"x":-6.35,"m":11.485,"e":0.255},{"x":-6.25,"m":11.483,"e":0.255},{"x":-6.15,"m":11.481,"e":0.255},{"x":-6.05,"m":11.479,"e":0.255},{"x":-5.95,"m":11.477,"e":0.255},{"x":-5.85,"m":11.475,"e":0.255},{"x":-5.75,"m":11.473,"e":0.255},{"x":-5.65,"m":11.471,"e":0.255},{"x":-5.55,"m":11.469,"e":0.255},{"x":-5.45,"m":11.466,"e":0.245},{"x":-5.35,"m":11.464,"e":0.245},{"x":-5.25,"m":11.461,"e":0.245},{"x":-5.15,"m":11.459,"e":0.245},{"x":-5.05,"m":11.456,"e":0.24},{"x":-4.95,"m":11.453,"e":0.24},{"x":-4.85,"m":11.451,"e":0.24},{"x":-4.75,"m":11.449,"e":0.24},{"x":-4.65,"m":11.447,"e":0.237},{"x":-4.55,"m":11.446,"e":0.237},{"x":-4.45,"m":11.445,"e":0.237},{"x":-4.35,"m":11.447,"e":0.237},{"x":-4.25,"m":11.452,"e":0.237},{"x":-4.15,"m":11.460,"e":0.24},{"x":-4.05,"m":11.470,"e":0.24},{"x":-3.95,"m":11.483,"e":0.24},{"x":-3.85,"m":11.500,"e":0.245},{"x":-3.75,"m":11.520,"e":0.245},{"x":-3.65,"m":11.545,"e":0.245},{"x":-3.55,"m":11.573,"e":0.245},{"x":-3.45,"m":11.607,"e":0.25},{"x":-3.35,"m":11.650,"e":0.25},{"x":-3.25,"m":11.700,"e":0.25},{"x":-3.15,"m":11.750,"e":0.255},{"x":-3.05,"m":11.795,"e":0.255},{"x":-2.95,"m":11.828,"e":0.255},{"x":-2.85,"m":11.850,"e":0.255},{"x":-2.75,"m":11.858,"e":0.255},{"x":-2.65,"m":11.858,"e":0.255}
],
"vAP": [
{"x":-7.15,"m":11.617,"e":0.288},{"x":-7.05,"m":11.615,"e":0.288},{"x":-6.95,"m":11.613,"e":0.288},{"x":-6.85,"m":11.611,"e":0.288},{"x":-6.75,"m":11.609,"e":0.288},{"x":-6.65,"m":11.606,"e":0.288},{"x":-6.55,"m":11.604,"e":0.288},{"x":-6.45,"m":11.601,"e":0.288},{"x":-6.35,"m":11.598,"e":0.288},{"x":-6.25,"m":11.596,"e":0.288},{"x":-6.15,"m":11.593,"e":0.288},{"x":-6.05,"m":11.590,"e":0.288},{"x":-5.95,"m":11.588,"e":0.288},{"x":-5.85,"m":11.585,"e":0.288},{"x":-5.75,"m":11.582,"e":0.288},{"x":-5.65,"m":11.578,"e":0.288},{"x":-5.55,"m":11.575,"e":0.288},{"x":-5.45,"m":11.571,"e":0.288},{"x":-5.35,"m":11.566,"e":0.288},{"x":-5.25,"m":11.562,"e":0.288},{"x":-5.15,"m":11.557,"e":0.288},{"x":-5.05,"m":11.552,"e":0.288},{"x":-4.95,"m":11.547,"e":0.288},{"x":-4.85,"m":11.541,"e":0.288},{"x":-4.75,"m":11.535,"e":0.288},{"x":-4.65,"m":11.528,"e":0.288},{"x":-4.55,"m":11.521,"e":0.288},{"x":-4.45,"m":11.515,"e":0.288},{"x":-4.35,"m":11.510,"e":0.288},{"x":-4.25,"m":11.507,"e":0.288},{"x":-4.15,"m":11.506,"e":0.288},{"x":-4.05,"m":11.510,"e":0.288},{"x":-3.95,"m":11.520,"e":0.288},{"x":-3.85,"m":11.535,"e":0.288},{"x":-3.75,"m":11.553,"e":0.288},{"x":-3.65,"m":11.572,"e":0.288},{"x":-3.55,"m":11.594,"e":0.288},{"x":-3.45,"m":11.618,"e":0.288},{"x":-3.35,"m":11.645,"e":0.288},{"x":-3.25,"m":11.680,"e":0.288},{"x":-3.15,"m":11.718,"e":0.288},{"x":-3.05,"m":11.752,"e":0.288},{"x":-2.95,"m":11.785,"e":0.288},{"x":-2.85,"m":11.812,"e":0.288},{"x":-2.75,"m":11.833,"e":0.288},{"x":-2.65,"m":11.850,"e":0.288},{"x":-2.55,"m":11.866,"e":0.288}
],
"vAT": [
{"x":-7.2,"m":11.590,"e":0.21},{"x":-7.08,"m":11.589,"e":0.21},{"x":-6.96,"m":11.588,"e":0.21},{"x":-6.84,"m":11.586,"e":0.21},{"x":-6.72,"m":11.584,"e":0.21},{"x":-6.6,"m":11.582,"e":0.21},{"x":-6.48,"m":11.579,"e":0.21},{"x":-6.36,"m":11.576,"e":0.21},{"x":-6.24,"m":11.573,"e":0.21},{"x":-6.12,"m":11.569,"e":0.21},{"x":-6.0,"m":11.565,"e":0.21},{"x":-5.88,"m":11.561,"e":0.195},{"x":-5.76,"m":11.556,"e":0.195},{"x":-5.64,"m":11.551,"e":0.195},{"x":-5.52,"m":11.546,"e":0.195},{"x":-5.4,"m":11.540,"e":0.195},{"x":-5.28,"m":11.534,"e":0.195},{"x":-5.16,"m":11.527,"e":0.195},{"x":-5.04,"m":11.520,"e":0.195},{"x":-4.92,"m":11.513,"e":0.195},{"x":-4.8,"m":11.507,"e":0.195},{"x":-4.68,"m":11.501,"e":0.18},{"x":-4.56,"m":11.497,"e":0.18},{"x":-4.44,"m":11.493,"e":0.18},{"x":-4.32,"m":11.491,"e":0.18},{"x":-4.2,"m":11.492,"e":0.18},{"x":-4.08,"m":11.496,"e":0.18},{"x":-3.96,"m":11.503,"e":0.18},{"x":-3.84,"m":11.513,"e":0.18},{"x":-3.72,"m":11.527,"e":0.18},{"x":-3.6,"m":11.545,"e":0.18},{"x":-3.48,"m":11.567,"e":0.19},{"x":-3.36,"m":11.593,"e":0.19},{"x":-3.24,"m":11.622,"e":0.19},{"x":-3.12,"m":11.655,"e":0.19},{"x":-3.0,"m":11.692,"e":0.19},{"x":-2.88,"m":11.730,"e":0.19},{"x":-2.76,"m":11.767,"e":0.19},{"x":-2.64,"m":11.802,"e":0.19},{"x":-2.52,"m":11.833,"e":0.19},{"x":-2.4,"m":11.860,"e":0.19}
],
"vES": [
{"x":-6.77,"m":11.310,"e":0.205},{"x":-6.67,"m":11.310,"e":0.205},{"x":-6.57,"m":11.309,"e":0.205},{"x":-6.47,"m":11.309,"e":0.205},{"x":-6.37,"m":11.308,"e":0.205},{"x":-6.27,"m":11.308,"e":0.205},{"x":-6.17,"m":11.307,"e":0.205},{"x":-6.07,"m":11.307,"e":0.205},{"x":-5.97,"m":11.306,"e":0.205},{"x":-5.87,"m":11.306,"e":0.205},{"x":-5.77,"m":11.306,"e":0.205},{"x":-5.67,"m":11.306,"e":0.205},{"x":-5.57,"m":11.307,"e":0.205},{"x":-5.47,"m":11.308,"e":0.205},{"x":-5.37,"m":11.310,"e":0.205},{"x":-5.27,"m":11.313,"e":0.205},{"x":-5.17,"m":11.316,"e":0.205},{"x":-5.07,"m":11.318,"e":0.19},{"x":-4.97,"m":11.317,"e":0.19},{"x":-4.87,"m":11.312,"e":0.17},{"x":-4.77,"m":11.307,"e":0.17},{"x":-4.67,"m":11.304,"e":0.17},{"x":-4.57,"m":11.302,"e":0.17},{"x":-4.47,"m":11.301,"e":0.17},{"x":-4.37,"m":11.303,"e":0.17},{"x":-4.27,"m":11.308,"e":0.17},{"x":-4.17,"m":11.316,"e":0.17},{"x":-4.07,"m":11.327,"e":0.17},{"x":-3.97,"m":11.341,"e":0.17},{"x":-3.87,"m":11.358,"e":0.17},{"x":-3.77,"m":11.378,"e":0.17},{"x":-3.67,"m":11.402,"e":0.17},{"x":-3.57,"m":11.430,"e":0.175},{"x":-3.47,"m":11.462,"e":0.175},{"x":-3.37,"m":11.495,"e":0.175},{"x":-3.27,"m":11.540,"e":0.175},{"x":-3.17,"m":11.590,"e":0.175},{"x":-3.07,"m":11.645,"e":0.175},{"x":-2.97,"m":11.700,"e":0.175},{"x":-2.87,"m":11.745,"e":0.175},{"x":-2.77,"m":11.785,"e":0.175},{"x":-2.67,"m":11.815,"e":0.175},{"x":-2.57,"m":11.838,"e":0.175},{"x":-2.47,"m":11.852,"e":0.175},{"x":-2.37,"m":11.860,"e":0.175}
],
"vME": [
{"x":-6.52,"m":11.736,"e":0.363},{"x":-6.42,"m":11.736,"e":0.363},{"x":-6.32,"m":11.735,"e":0.363},{"x":-6.22,"m":11.735,"e":0.363},{"x":-6.12,"m":11.734,"e":0.363},{"x":-6.02,"m":11.734,"e":0.363},{"x":-5.92,"m":11.733,"e":0.363},{"x":-5.82,"m":11.733,"e":0.363},{"x":-5.72,"m":11.733,"e":0.363},{"x":-5.62,"m":11.732,"e":0.363},{"x":-5.52,"m":11.732,"e":0.363},{"x":-5.42,"m":11.732,"e":0.363},{"x":-5.32,"m":11.732,"e":0.363},{"x":-5.22,"m":11.732,"e":0.363},{"x":-5.12,"m":11.732,"e":0.363},{"x":-5.02,"m":11.733,"e":0.363},{"x":-4.92,"m":11.734,"e":0.363},{"x":-4.82,"m":11.735,"e":0.363},{"x":-4.72,"m":11.737,"e":0.363},{"x":-4.62,"m":11.739,"e":0.363},{"x":-4.52,"m":11.742,"e":0.355},{"x":-4.42,"m":11.746,"e":0.355},{"x":-4.32,"m":11.750,"e":0.355},{"x":-4.22,"m":11.755,"e":0.355},{"x":-4.12,"m":11.760,"e":0.355},{"x":-4.02,"m":11.766,"e":0.355},{"x":-3.92,"m":11.773,"e":0.345},{"x":-3.82,"m":11.780,"e":0.345},{"x":-3.72,"m":11.788,"e":0.345},{"x":-3.62,"m":11.797,"e":0.345},{"x":-3.52,"m":11.806,"e":0.345},{"x":-3.42,"m":11.816,"e":0.345},{"x":-3.32,"m":11.827,"e":0.33},{"x":-3.22,"m":11.838,"e":0.33},{"x":-3.12,"m":11.850,"e":0.33},{"x":-3.02,"m":11.861,"e":0.33},{"x":-2.92,"m":11.867,"e":0.33},{"x":-2.82,"m":11.866,"e":0.32},{"x":-2.72,"m":11.860,"e":0.32}
],
"vRI": [
{"x":-6.74,"m":11.691,"e":0.263},{"x":-6.64,"m":11.690,"e":0.263},{"x":-6.54,"m":11.688,"e":0.263},{"x":-6.44,"m":11.686,"e":0.263},{"x":-6.34,"m":11.684,"e":0.263},{"x":-6.24,"m":11.682,"e":0.263},{"x":-6.14,"m":11.679,"e":0.263},{"x":-6.04,"m":11.677,"e":0.263},{"x":-5.94,"m":11.674,"e":0.263},{"x":-5.84,"m":11.671,"e":0.263},{"x":-5.74,"m":11.668,"e":0.263},{"x":-5.64,"m":11.665,"e":0.263},{"x":-5.54,"m":11.662,"e":0.263},{"x":-5.44,"m":11.659,"e":0.263},{"x":-5.34,"m":11.655,"e":0.263},{"x":-5.24,"m":11.651,"e":0.263},{"x":-5.14,"m":11.647,"e":0.263},{"x":-5.04,"m":11.643,"e":0.263},{"x":-4.94,"m":11.639,"e":0.263},{"x":-4.84,"m":11.636,"e":0.263},{"x":-4.74,"m":11.633,"e":0.263},{"x":-4.64,"m":11.632,"e":0.263},{"x":-4.54,"m":11.633,"e":0.263},{"x":-4.44,"m":11.637,"e":0.27},{"x":-4.34,"m":11.644,"e":0.27},{"x":-4.24,"m":11.654,"e":0.27},{"x":-4.14,"m":11.666,"e":0.27},{"x":-4.04,"m":11.681,"e":0.27},{"x":-3.94,"m":11.700,"e":0.27},{"x":-3.84,"m":11.722,"e":0.28},{"x":-3.74,"m":11.746,"e":0.28},{"x":-3.64,"m":11.772,"e":0.28},{"x":-3.54,"m":11.798,"e":0.28},{"x":-3.44,"m":11.823,"e":0.28},{"x":-3.34,"m":11.848,"e":0.28},{"x":-3.24,"m":11.872,"e":0.29},{"x":-3.14,"m":11.892,"e":0.29},{"x":-3.04,"m":11.904,"e":0.29},{"x":-2.94,"m":11.905,"e":0.29},{"x":-2.84,"m":11.893,"e":0.29}
],
"dA": [{"x":-4.47},{"x":-3.27}],
"dAA": [{"x":-4.63},{"x":-3.44}],
"dAD": [{"x":-4.48},{"x":-3.35}],
"dAP": [{"x":-4.16},{"x":-2.87}],
"dAT": [{"x":-4.345},{"x":-3.12}],
"dES": [{"x":-4.48},{"x":-3.37}],
"dME": [{"x":-5.23},{"x":-2.72}],
"dRI": [{"x":-4.70},{"x":-2.84}],
"blank": [{"s":0}]
},
"bounds": "flush",
"columns": 7,
"spacing": {"row": 44, "column": 5},
"concat": [
  {"title": {"text": "A", "dx": 0}, "width": 144, "height": 133, "data": {"name": "cA"},
   "layer": [
    {"mark": {"type": "line", "interpolate": "monotone", "strokeWidth": 0.9},
     "encoding": {
      "x": {"field": "x", "type": "quantitative", "scale": {"domain": [-7.0, -2.27], "nice": false, "zero": false}, "axis": {"title": "Log Lambda", "values": [-6, -5, -4, -3]}},
      "y": {"field": "y", "type": "quantitative", "scale": {"domain": [-16.05, 4.9], "nice": false, "zero": false}, "axis": {"title": "Coefficients", "values": [-15, -10, -5, 0]}},
      "color": {"field": "k", "type": "nominal", "legend": null, "scale": {"domain": [1,2,3,4,5,6,7,8,9,10,11,12,13,14,15,16,17,18,19,20,21,22,23,24], "range": ["#000000","#FF0000","#00CD00","#0000FF","#00FFFF","#FF00FF","#000000","#FF0000","#00CD00","#0000FF","#00FFFF","#FF00FF","#000000","#FF0000","#00CD00","#0000FF","#00FFFF","#FF00FF","#000000","#FF0000","#00CD00","#0000FF","#00FFFF","#FF00FF"]}}}},
    {"mark": {"type": "point", "opacity": 0},
     "encoding": {"x": {"field": "x", "type": "quantitative", "axis": {"orient": "top", "title": null, "values": [-6, -5, -4, -3], "labelExpr": "['17','15','15','13'][datum.value+6]"}}}}
   ],
   "resolve": {"axis": {"x": "independent"}}},
  {"width": 23, "height": 133, "data": {"name": "blank"}, "mark": {"type": "point", "opacity": 0}, "encoding": {}, "view": {"stroke": null}},
  {"title": {"text": "Integrated AS events", "fontWeight": "normal", "fontSize": 10.5, "dx": -54}, "width": 145, "height": 133,
   "layer": [
    {"data": {"name": "vA"}, "mark": {"type": "errorbar", "ticks": {"size": 3}, "color": "#a0a0a0", "thickness": 0.6},
     "encoding": {
      "x": {"field": "x", "type": "quantitative", "scale": {"domain": [-7.0, -2.27], "nice": false, "zero": false}, "axis": {"title": "log(Lambda)", "values": [-6, -5, -4, -3]}},
      "y": {"field": "m", "type": "quantitative", "scale": {"domain": [10.9, 12.14], "nice": false, "zero": false}, "axis": {"title": "Partial Likelihood Deviance", "values": [11.0, 11.2, 11.4, 11.6, 11.8, 12.0], "format": ".1f"}},
      "yError": {"field": "e"}}},
    {"data": {"name": "vA"}, "mark": {"type": "point", "filled": true, "color": "#FF0000", "size": 7, "opacity": 1},
     "encoding": {"x": {"field": "x", "type": "quantitative", "axis": null}, "y": {"field": "m", "type": "quantitative", "axis": {"title": "Partial Likelihood Deviance", "values": [11.0, 11.2, 11.4, 11.6, 11.8, 12.0], "format": ".1f"}}}},
    {"data": {"name": "dA"}, "mark": {"type": "rule", "strokeDash": [2, 1.5], "color": "#000", "strokeWidth": 0.7},
     "encoding": {"x": {"field": "x", "type": "quantitative", "axis": {"orient": "top", "title": null, "ticks": false, "labelPadding": 4, "values": [-6.78,-6.505,-6.23,-5.955,-5.68,-5.405,-5.13,-4.855,-4.58,-4.305,-4.03,-3.755,-3.48,-3.205,-2.93,-2.655], "labelExpr": "['19','18','18','17','16','16','16','15','13','13','13','13','12','13','12','8'][round((datum.value+6.78)/0.275)]"}}}}
   ],
   "resolve": {"axis": {"x": "independent"}}},
  {"width": 33, "height": 133, "data": {"name": "blank"}, "mark": {"type": "point", "opacity": 0}, "encoding": {}, "view": {"stroke": null}},
  {"title": {"text": "B", "dx": 0}, "width": 143, "height": 133, "data": {"name": "cB"},
   "layer": [
    {"mark": {"type": "line", "interpolate": "monotone", "strokeWidth": 0.9},
     "encoding": {
      "x": {"field": "x", "type": "quantitative", "scale": {"domain": [-7.05, -2.8], "nice": false, "zero": false}, "axis": {"title": "Log Lambda", "values": [-7, -6, -5, -4, -3]}},
      "y": {"field": "y", "type": "quantitative", "scale": {"domain": [-12.5, 18.7], "nice": false, "zero": false}, "axis": {"title": "Coefficients", "values": [-10, -5, 0, 5, 10, 15]}},
      "color": {"field": "k", "type": "nominal", "legend": null, "scale": {"domain": [1,2,3,4,5,6,7,8,9,10,11,12,13,14,15,16,17,18,19,20,21,22,23,24], "range": ["#000000","#FF0000","#00CD00","#0000FF","#00FFFF","#FF00FF","#000000","#FF0000","#00CD00","#0000FF","#00FFFF","#FF00FF","#000000","#FF0000","#00CD00","#0000FF","#00FFFF","#FF00FF","#000000","#FF0000","#00CD00","#0000FF","#00FFFF","#FF00FF"]}}}},
    {"mark": {"type": "point", "opacity": 0},
     "encoding": {"x": {"field": "x", "type": "quantitative", "axis": {"orient": "top", "title": null, "values": [-7, -6, -5, -4, -3], "labelExpr": "['20','20','19','19','13'][datum.value+7]"}}}}
   ],
   "resolve": {"axis": {"x": "independent"}}},
  {"width": 23, "height": 133, "data": {"name": "blank"}, "mark": {"type": "point", "opacity": 0}, "encoding": {}, "view": {"stroke": null}},
  {"title": {"text": "AA", "fontWeight": "normal", "fontSize": 12, "dx": -12}, "width": 142, "height": 133,
   "layer": [
    {"data": {"name": "vAA"}, "mark": {"type": "errorbar", "ticks": {"size": 3}, "color": "#a0a0a0", "thickness": 0.6},
     "encoding": {
      "x": {"field": "x", "type": "quantitative", "scale": {"domain": [-7.05, -2.8], "nice": false, "zero": false}, "axis": {"title": "log(Lambda)", "values": [-7, -6, -5, -4, -3]}},
      "y": {"field": "m", "type": "quantitative", "scale": {"domain": [11.246, 12.184], "nice": false, "zero": false}, "axis": {"title": "Partial Likelihood Deviance", "values": [11.4, 11.6, 11.8, 12.0], "format": ".1f"}},
      "yError": {"field": "e"}}},
    {"data": {"name": "vAA"}, "mark": {"type": "point", "filled": true, "color": "#FF0000", "size": 7, "opacity": 1},
     "encoding": {"x": {"field": "x", "type": "quantitative", "axis": null}, "y": {"field": "m", "type": "quantitative", "axis": {"title": "Partial Likelihood Deviance", "values": [11.4, 11.6, 11.8, 12.0], "format": ".1f"}}}},
    {"data": {"name": "dAA"}, "mark": {"type": "rule", "strokeDash": [2, 1.5], "color": "#000", "strokeWidth": 0.7},
     "encoding": {"x": {"field": "x", "type": "quantitative", "axis": {"orient": "top", "title": null, "ticks": false, "labelPadding": 4, "values": [-6.85,-6.594,-6.338,-6.082,-5.826,-5.57,-5.314,-5.058,-4.802,-4.546,-4.29,-4.034,-3.778,-3.522,-3.266,-3.01], "labelExpr": "['20','20','20','20','20','20','19','19','19','19','19','18','19','19','18','7'][round((datum.value+6.85)/0.256)]"}}}}
   ],
   "resolve": {"axis": {"x": "independent"}}},

  {"title": {"text": "C", "dx": 0}, "width": 144, "height": 133, "data": {"name": "cC"},
   "layer": [
    {"mark": {"type": "line", "interpolate": "monotone", "strokeWidth": 0.9},
     "encoding": {
      "x": {"field": "x", "type": "quantitative", "scale": {"domain": [-6.6, -2.47], "nice": false, "zero": false}, "axis": {"title": "Log Lambda", "values": [-6, -5, -4, -3]}},
      "y": {"field": "y", "type": "quantitative", "scale": {"domain": [-4.04, 3.2], "nice": false, "zero": false}, "axis": {"title": "Coefficients", "values": [-3, -2, -1, 0, 1, 2, 3]}},
      "color": {"field": "k", "type": "nominal", "legend": null, "scale": {"domain": [1,2,3,4,5,6,7,8,9,10,11,12,13,14,15,16,17,18,19,20,21,22,23,24], "range": ["#000000","#FF0000","#00CD00","#0000FF","#00FFFF","#FF00FF","#000000","#FF0000","#00CD00","#0000FF","#00FFFF","#FF00FF","#000000","#FF0000","#00CD00","#0000FF","#00FFFF","#FF00FF","#000000","#FF0000","#00CD00","#0000FF","#00FFFF","#FF00FF"]}}}},
    {"mark": {"type": "point", "opacity": 0},
     "encoding": {"x": {"field": "x", "type": "quantitative", "axis": {"orient": "top", "title": null, "values": [-6, -5, -4, -3], "labelExpr": "['20','20','20','14'][datum.value+6]"}}}}
   ],
   "resolve": {"axis": {"x": "independent"}}},
  {"width": 23, "height": 133, "data": {"name": "blank"}, "mark": {"type": "point", "opacity": 0}, "encoding": {}, "view": {"stroke": null}},
  {"title": {"text": "AD", "fontWeight": "normal", "fontSize": 12, "dx": -12}, "width": 145, "height": 133,
   "layer": [
    {"data": {"name": "vAD"}, "mark": {"type": "errorbar", "ticks": {"size": 3}, "color": "#a0a0a0", "thickness": 0.6},
     "encoding": {
      "x": {"field": "x", "type": "quantitative", "scale": {"domain": [-6.6, -2.47], "nice": false, "zero": false}, "axis": {"title": "log(Lambda)", "values": [-6, -5, -4, -3]}},
      "y": {"field": "m", "type": "quantitative", "scale": {"domain": [11.175, 12.21], "nice": false, "zero": false}, "axis": {"title": "Partial Likelihood Deviance", "values": [11.2, 11.4, 11.6, 11.8, 12.0], "format": ".1f"}},
      "yError": {"field": "e"}}},
    {"data": {"name": "vAD"}, "mark": {"type": "point", "filled": true, "color": "#FF0000", "size": 7, "opacity": 1},
     "encoding": {"x": {"field": "x", "type": "quantitative", "axis": null}, "y": {"field": "m", "type": "quantitative", "axis": {"title": "Partial Likelihood Deviance", "values": [11.2, 11.4, 11.6, 11.8, 12.0], "format": ".1f"}}}},
    {"data": {"name": "dAD"}, "mark": {"type": "rule", "strokeDash": [2, 1.5], "color": "#000", "strokeWidth": 0.7},
     "encoding": {"x": {"field": "x", "type": "quantitative", "axis": {"orient": "top", "title": null, "ticks": false, "labelPadding": 4, "values": [-6.46,-6.204,-5.948,-5.692,-5.436,-5.18,-4.924,-4.668,-4.412,-4.156,-3.9,-3.644,-3.388,-3.132,-2.876,-2.62], "labelExpr": "['20','20','20','20','20','20','20','20','20','20','20','20','18','14','4','0'][round((datum.value+6.46)/0.256)]"}}}}
   ],
   "resolve": {"axis": {"x": "independent"}}},
  {"width": 33, "height": 133, "data": {"name": "blank"}, "mark": {"type": "point", "opacity": 0}, "encoding": {}, "view": {"stroke": null}},
  {"title": {"text": "D", "dx": 0}, "width": 143, "height": 133, "data": {"name": "cD"},
   "layer": [
    {"mark": {"type": "line", "interpolate": "monotone", "strokeWidth": 0.9},
     "encoding": {
      "x": {"field": "x", "type": "quantitative", "scale": {"domain": [-7.33, -2.43], "nice": false, "zero": false}, "axis": {"title": "Log Lambda", "values": [-7, -6, -5, -4, -3]}},
      "y": {"field": "y", "type": "quantitative", "scale": {"domain": [-10.76, 4.43], "nice": false, "zero": false}, "axis": {"title": "Coefficients", "values": [-10, -8, -6, -4, -2, 0, 2, 4]}},
      "color": {"field": "k", "type": "nominal", "legend": null, "scale": {"domain": [1,2,3,4,5,6,7,8,9,10,11,12,13,14,15,16,17,18,19,20,21,22,23,24], "range": ["#000000","#FF0000","#00CD00","#0000FF","#00FFFF","#FF00FF","#000000","#FF0000","#00CD00","#0000FF","#00FFFF","#FF00FF","#000000","#FF0000","#00CD00","#0000FF","#00FFFF","#FF00FF","#000000","#FF0000","#00CD00","#0000FF","#00FFFF","#FF00FF"]}}}},
    {"mark": {"type": "point", "opacity": 0},
     "encoding": {"x": {"field": "x", "type": "quantitative", "axis": {"orient": "top", "title": null, "values": [-7, -6, -5, -4, -3], "labelExpr": "['18','17','16','13','10'][datum.value+7]"}}}}
   ],
   "resolve": {"axis": {"x": "independent"}}},
  {"width": 23, "height": 133, "data": {"name": "blank"}, "mark": {"type": "point", "opacity": 0}, "encoding": {}, "view": {"stroke": null}},
  {"title": {"text": "AP", "fontWeight": "normal", "fontSize": 12, "dx": -12}, "width": 142, "height": 133,
   "layer": [
    {"data": {"name": "vAP"}, "mark": {"type": "errorbar", "ticks": {"size": 3}, "color": "#a0a0a0", "thickness": 0.6},
     "encoding": {
      "x": {"field": "x", "type": "quantitative", "scale": {"domain": [-7.33, -2.43], "nice": false, "zero": false}, "axis": {"title": "log(Lambda)", "values": [-7, -6, -5, -4, -3]}},
      "y": {"field": "m", "type": "quantitative", "scale": {"domain": [11.17, 12.2], "nice": false, "zero": false}, "axis": {"title": "Partial Likelihood Deviance", "values": [11.2, 11.4, 11.6, 11.8, 12.0], "format": ".1f"}},
      "yError": {"field": "e"}}},
    {"data": {"name": "vAP"}, "mark": {"type": "point", "filled": true, "color": "#FF0000", "size": 7, "opacity": 1},
     "encoding": {"x": {"field": "x", "type": "quantitative", "axis": null}, "y": {"field": "m", "type": "quantitative", "axis": {"title": "Partial Likelihood Deviance", "values": [11.2, 11.4, 11.6, 11.8, 12.0], "format": ".1f"}}}},
    {"data": {"name": "dAP"}, "mark": {"type": "rule", "strokeDash": [2, 1.5], "color": "#000", "strokeWidth": 0.7},
     "encoding": {"x": {"field": "x", "type": "quantitative", "axis": {"orient": "top", "title": null, "ticks": false, "labelPadding": 4, "values": [-7.135,-6.883,-6.631,-6.379,-6.127,-5.875,-5.623,-5.371,-5.119,-4.867,-4.615,-4.363,-4.111,-3.859,-3.607,-3.355,-3.103,-2.851,-2.599], "labelExpr": "['18','17','17','17','17','17','17','17','17','17','16','14','13','13','13','13','11','10','7'][round((datum.value+7.135)/0.252)]"}}}}
   ],
   "resolve": {"axis": {"x": "independent"}}},

  {"title": {"text": "E", "dx": 0}, "width": 144, "height": 133, "data": {"name": "cE"},
   "layer": [
    {"mark": {"type": "line", "interpolate": "monotone", "strokeWidth": 0.9},
     "encoding": {
      "x": {"field": "x", "type": "quantitative", "scale": {"domain": [-7.35, -2.25], "nice": false, "zero": false}, "axis": {"title": "Log Lambda", "values": [-7, -6, -5, -4, -3]}},
      "y": {"field": "y", "type": "quantitative", "scale": {"domain": [-10.9, 4.63], "nice": false, "zero": false}, "axis": {"title": "Coefficients", "values": [-10, -8, -6, -4, -2, 0, 2, 4]}},
      "color": {"field": "k", "type": "nominal", "legend": null, "scale": {"domain": [1,2,3,4,5,6,7,8,9,10,11,12,13,14,15,16,17,18,19,20,21,22,23,24], "range": ["#000000","#FF0000","#00CD00","#0000FF","#00FFFF","#FF00FF","#000000","#FF0000","#00CD00","#0000FF","#00FFFF","#FF00FF","#000000","#FF0000","#00CD00","#0000FF","#00FFFF","#FF00FF","#000000","#FF0000","#00CD00","#0000FF","#00FFFF","#FF00FF"]}}}},
    {"mark": {"type": "point", "opacity": 0},
     "encoding": {"x": {"field": "x", "type": "quantitative", "axis": {"orient": "top", "title": null, "values": [-7, -6, -5, -4, -3], "labelExpr": "['19','18','15','13','12'][datum.value+7]"}}}}
   ],
   "resolve": {"axis": {"x": "independent"}}},
  {"width": 23, "height": 133, "data": {"name": "blank"}, "mark": {"type": "point", "opacity": 0}, "encoding": {}, "view": {"stroke": null}},
  {"title": {"text": "AT", "fontWeight": "normal", "fontSize": 12, "dx": -12}, "width": 145, "height": 133,
   "layer": [
    {"data": {"name": "vAT"}, "mark": {"type": "errorbar", "ticks": {"size": 3}, "color": "#a0a0a0", "thickness": 0.6},
     "encoding": {
      "x": {"field": "x", "type": "quantitative", "scale": {"domain": [-7.35, -2.25], "nice": false, "zero": false}, "axis": {"title": "log(Lambda)", "values": [-7, -6, -5, -4, -3]}},
      "y": {"field": "m", "type": "quantitative", "scale": {"domain": [11.29, 12.08], "nice": false, "zero": false}, "axis": {"title": "Partial Likelihood Deviance", "values": [11.4, 11.6, 11.8, 12.0], "format": ".1f"}},
      "yError": {"field": "e"}}},
    {"data": {"name": "vAT"}, "mark": {"type": "point", "filled": true, "color": "#FF0000", "size": 7, "opacity": 1},
     "encoding": {"x": {"field": "x", "type": "quantitative", "axis": null}, "y": {"field": "m", "type": "quantitative", "axis": {"title": "Partial Likelihood Deviance", "values": [11.4, 11.6, 11.8, 12.0], "format": ".1f"}}}},
    {"data": {"name": "dAT"}, "mark": {"type": "rule", "strokeDash": [2, 1.5], "color": "#000", "strokeWidth": 0.7},
     "encoding": {"x": {"field": "x", "type": "quantitative", "axis": {"orient": "top", "title": null, "ticks": false, "labelPadding": 4, "values": [-7.21,-6.843,-6.476,-6.109,-5.742,-5.375,-5.008,-4.641,-4.274,-3.907,-3.54,-3.173,-2.806,-2.439], "labelExpr": "['19','19','19','18','17','16','16','14','13','13','12','12','8','0'][round((datum.value+7.21)/0.367)]"}}}}
   ],
   "resolve": {"axis": {"x": "independent"}}},
  {"width": 33, "height": 133, "data": {"name": "blank"}, "mark": {"type": "point", "opacity": 0}, "encoding": {}, "view": {"stroke": null}},
  {"title": {"text": "F", "dx": 0}, "width": 143, "height": 133, "data": {"name": "cF"},
   "layer": [
    {"mark": {"type": "line", "interpolate": "monotone", "strokeWidth": 0.9},
     "encoding": {
      "x": {"field": "x", "type": "quantitative", "scale": {"domain": [-6.9, -2.26], "nice": false, "zero": false}, "axis": {"title": "Log Lambda", "values": [-6, -5, -4, -3]}},
      "y": {"field": "y", "type": "quantitative", "scale": {"domain": [-15.3, 10.2], "nice": false, "zero": false}, "axis": {"title": "Coefficients", "values": [-15, -10, -5, 0, 5, 10]}},
      "color": {"field": "k", "type": "nominal", "legend": null, "scale": {"domain": [1,2,3,4,5,6,7,8,9,10,11,12,13,14,15,16,17,18,19,20,21,22,23,24], "range": ["#000000","#FF0000","#00CD00","#0000FF","#00FFFF","#FF00FF","#000000","#FF0000","#00CD00","#0000FF","#00FFFF","#FF00FF","#000000","#FF0000","#00CD00","#0000FF","#00FFFF","#FF00FF","#000000","#FF0000","#00CD00","#0000FF","#00FFFF","#FF00FF"]}}}},
    {"mark": {"type": "point", "opacity": 0},
     "encoding": {"x": {"field": "x", "type": "quantitative", "axis": {"orient": "top", "title": null, "values": [-6, -5, -4, -3], "labelExpr": "['19','19','18','18'][datum.value+6]"}}}}
   ],
   "resolve": {"axis": {"x": "independent"}}},
  {"width": 23, "height": 133, "data": {"name": "blank"}, "mark": {"type": "point", "opacity": 0}, "encoding": {}, "view": {"stroke": null}},
  {"title": {"text": "ES", "fontWeight": "normal", "fontSize": 12, "dx": -12}, "width": 142, "height": 133,
   "layer": [
    {"data": {"name": "vES"}, "mark": {"type": "errorbar", "ticks": {"size": 3}, "color": "#a0a0a0", "thickness": 0.6},
     "encoding": {
      "x": {"field": "x", "type": "quantitative", "scale": {"domain": [-6.9, -2.26], "nice": false, "zero": false}, "axis": {"title": "log(Lambda)", "values": [-6, -5, -4, -3]}},
      "y": {"field": "m", "type": "quantitative", "scale": {"domain": [11.06, 12.07], "nice": false, "zero": false}, "axis": {"title": "Partial Likelihood Deviance", "values": [11.2, 11.4, 11.6, 11.8, 12.0], "format": ".1f"}},
      "yError": {"field": "e"}}},
    {"data": {"name": "vES"}, "mark": {"type": "point", "filled": true, "color": "#FF0000", "size": 7, "opacity": 1},
     "encoding": {"x": {"field": "x", "type": "quantitative", "axis": null}, "y": {"field": "m", "type": "quantitative", "axis": {"title": "Partial Likelihood Deviance", "values": [11.2, 11.4, 11.6, 11.8, 12.0], "format": ".1f"}}}},
    {"data": {"name": "dES"}, "mark": {"type": "rule", "strokeDash": [2, 1.5], "color": "#000", "strokeWidth": 0.7},
     "encoding": {"x": {"field": "x", "type": "quantitative", "axis": {"orient": "top", "title": null, "ticks": false, "labelPadding": 4, "values": [-6.77,-6.498,-6.225,-5.953,-5.68,-5.408,-5.135,-4.863,-4.59,-4.318,-4.045,-3.773,-3.5,-3.228,-2.955,-2.683,-2.41], "labelExpr": "['20','20','20','19','19','19','19','18','18','18','18','19','19','18','9','3','0'][round((datum.value+6.77)/0.2725)]"}}}}
   ],
   "resolve": {"axis": {"x": "independent"}}},

  {"title": {"text": "G", "dx": 0}, "width": 144, "height": 133, "data": {"name": "cG"},
   "layer": [
    {"mark": {"type": "line", "interpolate": "monotone", "strokeWidth": 0.9},
     "encoding": {
      "x": {"field": "x", "type": "quantitative", "scale": {"domain": [-6.65, -2.61], "nice": false, "zero": false}, "axis": {"title": "Log Lambda", "values": [-6, -5, -4, -3]}},
      "y": {"field": "y", "type": "quantitative", "scale": {"domain": [-3.95, 1.62], "nice": false, "zero": false}, "axis": {"title": "Coefficients", "values": [-3, -2, -1, 0, 1]}},
      "color": {"field": "k", "type": "nominal", "legend": null, "scale": {"domain": [1,2,3,4,5,6,7,8,9,10,11,12,13,14,15,16,17,18,19,20,21,22,23,24], "range": ["#000000","#FF0000","#00CD00","#0000FF","#00FFFF","#FF00FF","#000000","#FF0000","#00CD00","#0000FF","#00FFFF","#FF00FF","#000000","#FF0000","#00CD00","#0000FF","#00FFFF","#FF00FF","#000000","#FF0000","#00CD00","#0000FF","#00FFFF","#FF00FF"]}}}},
    {"mark": {"type": "point", "opacity": 0},
     "encoding": {"x": {"field": "x", "type": "quantitative", "axis": {"orient": "top", "title": null, "values": [-6, -5, -4, -3], "labelExpr": "['9','9','9','6'][datum.value+6]"}}}}
   ],
   "resolve": {"axis": {"x": "independent"}}},
  {"width": 23, "height": 133, "data": {"name": "blank"}, "mark": {"type": "point", "opacity": 0}, "encoding": {}, "view": {"stroke": null}},
  {"title": {"text": "ME", "fontWeight": "normal", "fontSize": 12, "dx": -12}, "width": 145, "height": 133,
   "layer": [
    {"data": {"name": "vME"}, "mark": {"type": "errorbar", "ticks": {"size": 3}, "color": "#a0a0a0", "thickness": 0.6},
     "encoding": {
      "x": {"field": "x", "type": "quantitative", "scale": {"domain": [-6.65, -2.61], "nice": false, "zero": false}, "axis": {"title": "log(Lambda)", "values": [-6, -5, -4, -3]}},
      "y": {"field": "m", "type": "quantitative", "scale": {"domain": [11.33, 12.225], "nice": false, "zero": false}, "axis": {"title": "Partial Likelihood Deviance", "values": [11.4, 11.6, 11.8, 12.0, 12.2], "format": ".1f"}},
      "yError": {"field": "e"}}},
    {"data": {"name": "vME"}, "mark": {"type": "point", "filled": true, "color": "#FF0000", "size": 7, "opacity": 1},
     "encoding": {"x": {"field": "x", "type": "quantitative", "axis": null}, "y": {"field": "m", "type": "quantitative", "axis": {"title": "Partial Likelihood Deviance", "values": [11.4, 11.6, 11.8, 12.0, 12.2], "format": ".1f"}}}},
    {"data": {"name": "dME"}, "mark": {"type": "rule", "strokeDash": [2, 1.5], "color": "#000", "strokeWidth": 0.7},
     "encoding": {"x": {"field": "x", "type": "quantitative", "axis": {"orient": "top", "title": null, "ticks": false, "labelPadding": 4, "values": [-6.52,-6.325,-6.13,-5.935,-5.74,-5.545,-5.35,-5.155,-4.96,-4.765,-4.57,-4.375,-4.18,-3.985,-3.79,-3.595,-3.4,-3.205,-3.01,-2.815], "labelExpr": "['9','9','9','9','9','9','9','9','9','9','9','9','9','9','9','9','9','6','5','1'][round((datum.value+6.52)/0.195)]"}}}}
   ],
   "resolve": {"axis": {"x": "independent"}}},
  {"width": 33, "height": 133, "data": {"name": "blank"}, "mark": {"type": "point", "opacity": 0}, "encoding": {}, "view": {"stroke": null}},
  {"title": {"text": "H", "dx": 0}, "width": 143, "height": 133, "data": {"name": "cH"},
   "layer": [
    {"mark": {"type": "line", "interpolate": "monotone", "strokeWidth": 0.9},
     "encoding": {
      "x": {"field": "x", "type": "quantitative", "scale": {"domain": [-6.9, -2.75], "nice": false, "zero": false}, "axis": {"title": "Log Lambda", "values": [-6, -5, -4, -3]}},
      "y": {"field": "y", "type": "quantitative", "scale": {"domain": [-23.4, 24.1], "nice": false, "zero": false}, "axis": {"title": "Coefficients", "values": [-20, -10, 0, 10, 20]}},
      "color": {"field": "k", "type": "nominal", "legend": null, "scale": {"domain": [1,2,3,4,5,6,7,8,9,10,11,12,13,14,15,16,17,18,19,20,21,22,23,24], "range": ["#000000","#FF0000","#00CD00","#0000FF","#00FFFF","#FF00FF","#000000","#FF0000","#00CD00","#0000FF","#00FFFF","#FF00FF","#000000","#FF0000","#00CD00","#0000FF","#00FFFF","#FF00FF","#000000","#FF0000","#00CD00","#0000FF","#00FFFF","#FF00FF"]}}}},
    {"mark": {"type": "point", "opacity": 0},
     "encoding": {"x": {"field": "x", "type": "quantitative", "axis": {"orient": "top", "title": null, "values": [-6, -5, -4, -3], "labelExpr": "['18','18','18','9'][datum.value+6]"}}}}
   ],
   "resolve": {"axis": {"x": "independent"}}},
  {"width": 23, "height": 133, "data": {"name": "blank"}, "mark": {"type": "point", "opacity": 0}, "encoding": {}, "view": {"stroke": null}},
  {"title": {"text": "RI", "fontWeight": "normal", "fontSize": 12, "dx": -12}, "width": 142, "height": 133,
   "layer": [
    {"data": {"name": "vRI"}, "mark": {"type": "errorbar", "ticks": {"size": 3}, "color": "#a0a0a0", "thickness": 0.6},
     "encoding": {
      "x": {"field": "x", "type": "quantitative", "scale": {"domain": [-6.9, -2.75], "nice": false, "zero": false}, "axis": {"title": "log(Lambda)", "values": [-6, -5, -4, -3]}},
      "y": {"field": "m", "type": "quantitative", "scale": {"domain": [11.33, 12.235], "nice": false, "zero": false}, "axis": {"title": "Partial Likelihood Deviance", "values": [11.4, 11.6, 11.8, 12.0, 12.2], "format": ".1f"}},
      "yError": {"field": "e"}}},
    {"data": {"name": "vRI"}, "mark": {"type": "point", "filled": true, "color": "#FF0000", "size": 7, "opacity": 1},
     "encoding": {"x": {"field": "x", "type": "quantitative", "axis": null}, "y": {"field": "m", "type": "quantitative", "axis": {"title": "Partial Likelihood Deviance", "values": [11.4, 11.6, 11.8, 12.0, 12.2], "format": ".1f"}}}},
    {"data": {"name": "dRI"}, "mark": {"type": "rule", "strokeDash": [2, 1.5], "color": "#000", "strokeWidth": 0.7},
     "encoding": {"x": {"field": "x", "type": "quantitative", "axis": {"orient": "top", "title": null, "ticks": false, "labelPadding": 4, "values": [-6.74,-6.481,-6.222,-5.963,-5.704,-5.445,-5.186,-4.927,-4.668,-4.409,-4.15,-3.891,-3.632,-3.373,-3.114,-2.855], "labelExpr": "['19','19','19','19','19','18','18','18','16','18','18','18','17','18','14','9'][round((datum.value+6.74)/0.259)]"}}}}
   ],
   "resolve": {"axis": {"x": "independent"}}}
]
}
